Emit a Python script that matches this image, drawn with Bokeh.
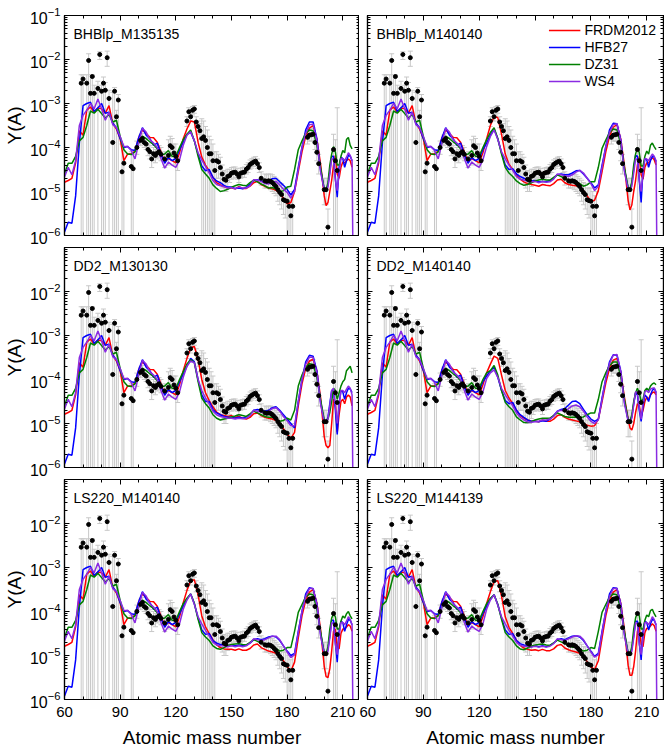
from bokeh.plotting import figure
from bokeh.layouts import gridplot
from bokeh.models import (Range1d, FixedTicker, LogTicker, LogAxis, LinearAxis, Label,
                          Legend, LegendItem, CustomJSTickFormatter)
from bokeh.embed import file_html
from bokeh.resources import INLINE

nan = float("nan")
FONT = "Liberation Sans"

# ---------------- data ----------------
# mass-number grid of the model curves
A_GRID = [60, 62, 64, 66, 68, 70, 72, 74, 76, 78, 80, 82, 84, 86, 88, 90, 92, 94, 96, 98,
          100, 102, 104, 106, 108, 110, 112, 114, 116, 118, 120, 122, 124, 126, 128, 130, 132, 134, 136, 138,
          140, 142, 144, 146, 148, 150, 152, 154, 156, 158, 160, 162, 164, 166, 168, 170, 172, 174, 176, 178,
          180, 182, 184, 186, 188, 190, 192, 194, 196, 198,
          200, 201, 202, 203, 204, 205, 206, 207, 208, 209, 210, 211, 212, 213, 214, 215, 216]

# model curves, values are log10 Y(A)
FRDM_BHBLP_M135135 = [-4.79,-4.75,-4.70,-4.35,-3.62,-3.72,-3.15,-3.08,-3.20,-3.10,-3.12,-3.22,-3.05,-3.45,-3.58,-3.80,-4.30,-4.15,-4.15,-4.08,
 -3.78,-3.60,-3.68,-3.77,-3.78,-3.88,-4.10,-4.32,-4.25,-4.30,-4.35,-4.12,-3.80,-3.58,-3.40,-3.42,-3.88,-4.22,-4.40,-4.53,
 -4.68,-4.80,-4.85,-4.89,-4.92,-4.92,-4.94,-4.89,-4.93,-4.93,-4.88,-4.80,-4.77,-4.84,-4.88,-4.92,-4.94,-4.97,-5.04,-5.15,
 -5.28,-5.25,-5.00,-4.55,-4.10,-3.75,-3.56,-3.50,-3.80,-4.37,
 -5.10,-5.32,-5.25,-5.00,-4.75,-4.40,-4.18,-4.60,-4.70,-4.45,-4.33,-4.35,-4.30,-4.26,-4.30,-4.45,nan]
HFB27_BHBLP_M135135 = [-5.92,-5.70,-5.72,-5.10,-3.90,-3.05,-3.00,-2.97,-3.18,-3.10,-3.00,-3.22,-3.20,-3.45,-3.55,-3.80,-4.00,-3.98,-4.05,-4.07,
 -3.78,-3.55,-3.72,-3.80,-3.95,-3.90,-4.15,-4.36,-4.23,-4.30,-4.25,-4.05,-3.88,-3.70,-3.65,-3.85,-4.15,-4.42,-4.53,-4.50,
 -4.68,-4.76,-4.80,-4.86,-4.90,-4.90,-4.93,-4.92,-4.94,-4.90,-4.84,-4.75,-4.73,-4.76,-4.78,-4.76,-4.71,-4.70,-4.78,-4.86,
 -4.95,-5.08,-4.95,-4.45,-4.00,-3.60,-3.42,-3.42,-3.80,-4.50,
 -4.95,-4.98,-4.85,-4.55,-4.20,-4.20,-4.70,-5.13,-4.45,-4.22,-4.25,-4.45,-4.30,-4.18,-4.20,-4.30,nan]
DZ31_BHBLP_M135135 = [-4.60,-4.36,-4.36,-4.20,-3.85,-3.77,-3.50,-3.17,-3.22,-3.13,-3.23,-3.33,-3.25,-3.42,-3.38,-3.75,-4.05,-4.15,-4.16,-4.10,
 -3.90,-3.74,-3.80,-3.87,-3.93,-4.03,-4.17,-4.15,-4.07,-4.20,-4.20,-4.00,-3.82,-3.70,-3.60,-3.85,-4.20,-4.50,-4.60,-4.70,
 -4.85,-4.93,-5.00,-4.98,-4.95,-4.90,-4.87,-4.84,-4.86,-4.87,-4.80,-4.74,-4.78,-4.83,-4.87,-4.92,-4.91,-4.95,-5.01,-4.98,
 -4.90,-4.88,-4.50,-4.05,-3.85,-3.68,-3.60,-3.62,-3.95,-4.45,
 -4.95,-4.97,-4.80,-4.40,-4.15,-3.98,-4.10,-4.40,-4.40,-4.20,-4.07,-4.12,-3.82,-3.77,-3.95,-4.03,nan]
WS4_BHBLP_M135135 = [-4.67,-4.45,-4.62,-4.30,-3.50,-3.27,-3.15,-3.00,-3.12,-2.90,-3.12,-3.38,-3.20,-3.48,-3.55,-3.75,-3.98,-3.97,-4.07,-4.26,
 -3.90,-3.56,-3.65,-3.82,-3.90,-4.00,-4.25,-4.47,-4.33,-4.40,-4.45,-4.28,-3.95,-3.72,-3.64,-3.85,-4.12,-4.28,-4.43,-4.58,
 -4.75,-4.84,-4.87,-4.89,-4.92,-4.91,-4.94,-4.90,-4.92,-4.92,-4.87,-4.73,-4.74,-4.77,-4.82,-4.83,-4.79,-4.77,-4.85,-4.95,
 -5.02,-5.15,-5.00,-4.50,-4.00,-3.68,-3.48,-3.47,-3.85,-4.55,
 -4.97,-5.00,-4.90,-4.60,-4.25,-4.28,-4.75,-4.98,-4.60,-4.25,-4.25,-4.30,-4.22,-4.12,-4.18,-4.30,-9.0]

FRDM_BHBLP_M140140 = [-4.79,-4.75,-4.70,-4.35,-3.62,-3.72,-3.15,-3.08,-3.20,-3.10,-3.12,-3.22,-3.05,-3.45,-3.58,-3.80,-4.30,-4.15,-4.15,-4.08,
 -3.78,-3.60,-3.68,-3.77,-3.78,-3.88,-4.10,-4.32,-4.25,-4.30,-4.35,-4.12,-3.80,-3.50,-3.30,-3.32,-3.70,-4.15,-4.38,-4.50,
 -4.62,-4.72,-4.78,-4.82,-4.84,-4.86,-4.88,-4.84,-4.86,-4.87,-4.82,-4.74,-4.72,-4.80,-4.84,-4.86,-4.87,-4.90,-4.98,-5.10,
 -5.22,-5.20,-4.98,-4.55,-4.10,-3.75,-3.54,-3.48,-3.80,-4.40,
 -5.20,-5.42,-5.30,-5.00,-4.75,-4.40,-4.20,-4.62,-4.72,-4.45,-4.35,-4.35,-4.28,-4.23,-4.28,-4.40,nan]
HFB27_BHBLP_M140140 = [-5.92,-5.70,-5.72,-5.10,-3.90,-3.05,-3.00,-2.97,-3.18,-3.10,-3.00,-3.22,-3.20,-3.45,-3.55,-3.80,-4.00,-3.98,-4.05,-4.07,
 -3.78,-3.55,-3.72,-3.80,-3.95,-3.90,-4.15,-4.36,-4.23,-4.30,-4.25,-4.05,-3.90,-3.72,-3.58,-3.80,-4.12,-4.40,-4.50,-4.48,
 -4.60,-4.66,-4.70,-4.74,-4.76,-4.75,-4.78,-4.77,-4.78,-4.75,-4.70,-4.62,-4.60,-4.62,-4.62,-4.58,-4.53,-4.52,-4.60,-4.70,
 -4.80,-4.92,-4.85,-4.40,-3.98,-3.60,-3.45,-3.46,-3.82,-4.50,
 -4.92,-4.95,-4.82,-4.50,-4.18,-4.20,-4.75,-5.25,-4.50,-4.25,-4.28,-4.45,-4.30,-4.20,-4.22,-4.32,nan]
DZ31_BHBLP_M140140 = [-4.60,-4.36,-4.36,-4.20,-3.85,-3.77,-3.50,-3.17,-3.22,-3.13,-3.23,-3.33,-3.25,-3.42,-3.38,-3.75,-4.05,-4.15,-4.16,-4.10,
 -3.90,-3.74,-3.80,-3.87,-3.93,-4.03,-4.17,-4.15,-4.07,-4.20,-4.20,-4.00,-3.82,-3.66,-3.55,-3.80,-4.15,-4.45,-4.58,-4.66,
 -4.76,-4.82,-4.86,-4.84,-4.80,-4.76,-4.74,-4.72,-4.74,-4.74,-4.68,-4.62,-4.66,-4.70,-4.74,-4.78,-4.78,-4.82,-4.88,-4.85,
 -4.78,-4.78,-4.45,-4.02,-3.83,-3.66,-3.58,-3.60,-3.92,-4.45,
 -4.92,-4.95,-4.78,-4.40,-4.15,-4.00,-4.12,-4.42,-4.42,-4.20,-4.08,-4.15,-3.95,-3.90,-3.98,-4.05,nan]
WS4_BHBLP_M140140 = [-4.67,-4.45,-4.62,-4.30,-3.50,-3.27,-3.15,-3.00,-3.12,-2.90,-3.12,-3.38,-3.20,-3.48,-3.55,-3.75,-3.98,-3.97,-4.07,-4.26,
 -3.90,-3.56,-3.65,-3.82,-3.90,-4.00,-4.25,-4.47,-4.33,-4.40,-4.45,-4.28,-3.98,-3.75,-3.60,-3.82,-4.10,-4.26,-4.40,-4.52,
 -4.66,-4.72,-4.74,-4.76,-4.78,-4.77,-4.80,-4.77,-4.79,-4.78,-4.72,-4.60,-4.62,-4.64,-4.66,-4.62,-4.56,-4.52,-4.58,-4.70,
 -4.82,-4.98,-4.88,-4.45,-3.98,-3.66,-3.48,-3.46,-3.84,-4.55,
 -4.95,-4.98,-4.88,-4.58,-4.25,-4.28,-4.75,-5.00,-4.60,-4.25,-4.26,-4.30,-4.22,-4.15,-4.20,-4.30,-9.0]

FRDM_DD2_M130130 = [-4.79,-4.75,-4.70,-4.35,-3.62,-3.72,-3.15,-3.08,-3.20,-3.10,-3.12,-3.22,-3.05,-3.45,-3.58,-3.80,-4.30,-4.15,-4.15,-4.08,
 -3.78,-3.60,-3.68,-3.77,-3.78,-3.88,-4.10,-4.32,-4.25,-4.30,-4.35,-4.12,-3.80,-3.52,-3.28,-3.25,-3.55,-4.00,-4.30,-4.48,
 -4.62,-4.74,-4.80,-4.82,-4.84,-4.82,-4.86,-4.84,-4.88,-4.90,-4.86,-4.78,-4.76,-4.82,-4.86,-4.88,-4.90,-4.93,-5.00,-5.12,
 -5.24,-5.34,-5.20,-4.60,-4.10,-3.75,-3.58,-3.54,-3.80,-4.40,
 -5.30,-5.50,-5.55,-5.50,-5.00,-4.45,-4.50,-5.20,-4.80,-4.50,-4.45,-4.55,-4.40,-4.35,-4.40,-4.60,nan]
HFB27_DD2_M130130 = [-5.92,-5.70,-5.72,-5.10,-3.90,-3.05,-3.00,-2.97,-3.18,-3.10,-3.00,-3.22,-3.20,-3.45,-3.55,-3.80,-4.00,-3.98,-4.05,-4.07,
 -3.78,-3.55,-3.72,-3.80,-3.95,-3.90,-4.15,-4.36,-4.23,-4.30,-4.25,-4.05,-3.88,-3.70,-3.52,-3.60,-4.00,-4.35,-4.50,-4.50,
 -4.68,-4.76,-4.80,-4.84,-4.86,-4.86,-4.88,-4.86,-4.88,-4.85,-4.80,-4.70,-4.68,-4.70,-4.72,-4.70,-4.64,-4.62,-4.70,-4.80,
 -4.90,-5.00,-5.10,-4.50,-4.00,-3.60,-3.45,-3.47,-3.80,-4.50,
 -4.95,-4.98,-4.85,-4.55,-4.25,-4.25,-4.70,-5.25,-4.55,-4.25,-4.28,-4.45,-4.30,-4.20,-4.22,-4.30,nan]
DZ31_DD2_M130130 = [-4.60,-4.36,-4.36,-4.20,-3.85,-3.77,-3.50,-3.17,-3.22,-3.13,-3.23,-3.33,-3.25,-3.42,-3.38,-3.75,-4.05,-4.15,-4.16,-4.10,
 -3.90,-3.74,-3.80,-3.87,-3.93,-4.03,-4.17,-4.15,-4.07,-4.20,-4.20,-4.00,-3.82,-3.65,-3.55,-3.62,-4.05,-4.42,-4.55,-4.65,
 -4.80,-4.88,-4.92,-4.90,-4.88,-4.85,-4.83,-4.80,-4.82,-4.84,-4.78,-4.72,-4.76,-4.80,-4.84,-4.86,-4.86,-4.90,-4.95,-4.93,
 -4.88,-4.92,-4.70,-4.15,-3.90,-3.72,-3.64,-3.66,-3.95,-4.45,
 -4.92,-4.95,-4.90,-4.75,-4.50,-4.20,-4.25,-4.45,-4.30,-4.15,-4.05,-4.00,-3.80,-3.75,-3.70,-3.85,nan]
WS4_DD2_M130130 = [-4.67,-4.45,-4.62,-4.30,-3.50,-3.27,-3.15,-3.00,-3.12,-2.90,-3.12,-3.38,-3.20,-3.48,-3.55,-3.75,-3.98,-3.97,-4.07,-4.26,
 -3.90,-3.56,-3.65,-3.82,-3.90,-4.00,-4.25,-4.47,-4.33,-4.40,-4.45,-4.28,-3.95,-3.70,-3.58,-3.62,-4.00,-4.25,-4.42,-4.56,
 -4.72,-4.80,-4.84,-4.86,-4.88,-4.88,-4.90,-4.88,-4.89,-4.88,-4.82,-4.70,-4.72,-4.74,-4.76,-4.72,-4.66,-4.64,-4.72,-4.84,
 -4.94,-5.05,-5.05,-4.50,-4.00,-3.66,-3.49,-3.50,-3.85,-4.55,
 -4.97,-5.00,-4.90,-4.60,-4.25,-4.20,-4.60,-5.00,-4.60,-4.25,-4.25,-4.30,-4.22,-4.15,-4.20,-4.35,-9.0]

FRDM_DD2_M140140 = [-4.79,-4.75,-4.70,-4.35,-3.62,-3.72,-3.15,-3.08,-3.20,-3.10,-3.12,-3.22,-3.05,-3.45,-3.58,-3.80,-4.30,-4.15,-4.15,-4.08,
 -3.78,-3.60,-3.68,-3.77,-3.78,-3.88,-4.10,-4.32,-4.25,-4.30,-4.35,-4.12,-3.85,-3.65,-3.47,-3.52,-3.90,-4.25,-4.42,-4.55,
 -4.70,-4.82,-4.88,-4.92,-4.95,-4.95,-4.96,-4.92,-4.95,-4.95,-4.90,-4.82,-4.80,-4.86,-4.90,-4.92,-4.94,-4.96,-5.00,-5.04,
 -5.06,-5.05,-4.90,-4.50,-4.08,-3.75,-3.56,-3.52,-3.82,-4.40,
 -4.90,-5.10,-5.15,-5.00,-4.75,-4.55,-4.60,-4.85,-4.70,-4.50,-4.40,-4.45,-4.35,-4.30,-4.28,-4.35,nan]
HFB27_DD2_M140140 = [-5.92,-5.70,-5.72,-5.10,-3.90,-3.05,-3.00,-2.97,-3.18,-3.10,-3.00,-3.22,-3.20,-3.45,-3.55,-3.80,-4.00,-3.98,-4.05,-4.07,
 -3.78,-3.55,-3.72,-3.80,-3.95,-3.90,-4.15,-4.36,-4.23,-4.30,-4.25,-4.05,-3.92,-3.80,-3.72,-3.95,-4.25,-4.48,-4.55,-4.52,
 -4.70,-4.80,-4.86,-4.92,-4.95,-4.95,-4.96,-4.94,-4.95,-4.90,-4.82,-4.72,-4.68,-4.66,-4.58,-4.50,-4.49,-4.55,-4.68,-4.80,
 -4.90,-4.95,-4.90,-4.42,-3.98,-3.60,-3.44,-3.45,-3.80,-4.50,
 -4.92,-4.95,-4.85,-4.55,-4.30,-4.35,-4.70,-4.95,-4.60,-4.35,-4.40,-4.50,-4.35,-4.25,-4.20,-4.30,nan]
DZ31_DD2_M140140 = [-4.60,-4.36,-4.36,-4.20,-3.85,-3.77,-3.50,-3.17,-3.22,-3.13,-3.23,-3.33,-3.25,-3.42,-3.38,-3.75,-4.05,-4.15,-4.16,-4.10,
 -3.90,-3.74,-3.80,-3.87,-3.93,-4.03,-4.17,-4.15,-4.07,-4.20,-4.20,-4.00,-3.85,-3.80,-3.68,-3.90,-4.25,-4.52,-4.62,-4.70,
 -4.85,-4.92,-4.98,-4.98,-4.96,-4.92,-4.90,-4.88,-4.88,-4.88,-4.82,-4.76,-4.80,-4.84,-4.86,-4.86,-4.85,-4.86,-4.85,-4.80,
 -4.76,-4.76,-4.45,-4.05,-3.85,-3.68,-3.60,-3.60,-3.92,-4.45,
 -4.92,-4.95,-4.80,-4.50,-4.30,-4.20,-4.30,-4.50,-4.45,-4.25,-4.20,-4.25,-4.15,-4.10,-4.08,-4.12,nan]
WS4_DD2_M140140 = [-4.67,-4.45,-4.62,-4.30,-3.50,-3.27,-3.15,-3.00,-3.12,-2.90,-3.12,-3.38,-3.20,-3.48,-3.55,-3.75,-3.98,-3.97,-4.07,-4.26,
 -3.90,-3.56,-3.65,-3.82,-3.90,-4.00,-4.25,-4.47,-4.33,-4.40,-4.45,-4.28,-3.98,-3.85,-3.78,-3.95,-4.20,-4.35,-4.48,-4.60,
 -4.76,-4.86,-4.92,-4.96,-4.97,-4.96,-4.95,-4.92,-4.92,-4.90,-4.84,-4.72,-4.70,-4.72,-4.66,-4.60,-4.58,-4.62,-4.72,-4.85,
 -4.95,-5.00,-4.92,-4.45,-3.98,-3.64,-3.45,-3.43,-3.82,-4.55,
 -4.95,-4.98,-4.88,-4.58,-4.28,-4.30,-4.65,-4.90,-4.55,-4.28,-4.25,-4.30,-4.22,-4.20,-4.19,-4.28,-9.0]

FRDM_LS220_M140140 = [-4.79,-4.75,-4.70,-4.35,-3.62,-3.72,-3.15,-3.08,-3.20,-3.10,-3.12,-3.22,-3.05,-3.45,-3.58,-3.80,-4.30,-4.15,-4.15,-4.08,
 -3.78,-3.60,-3.68,-3.77,-3.78,-3.88,-4.10,-4.32,-4.25,-4.30,-4.35,-4.12,-3.80,-3.52,-3.30,-3.28,-3.62,-4.10,-4.35,-4.50,
 -4.64,-4.76,-4.82,-4.85,-4.86,-4.86,-4.88,-4.85,-4.88,-4.88,-4.84,-4.76,-4.74,-4.82,-4.86,-4.90,-4.92,-4.95,-5.02,-5.12,
 -5.25,-5.36,-5.15,-4.60,-4.10,-3.75,-3.56,-3.50,-3.80,-4.40,
 -5.25,-5.48,-5.50,-5.30,-4.90,-4.45,-4.40,-4.80,-4.85,-4.50,-4.40,-4.40,-4.35,-4.30,-4.33,-4.45,nan]
HFB27_LS220_M140140 = [-5.92,-5.70,-5.72,-5.10,-3.90,-3.05,-3.00,-2.97,-3.18,-3.10,-3.00,-3.22,-3.20,-3.45,-3.55,-3.80,-4.00,-3.98,-4.05,-4.07,
 -3.78,-3.55,-3.72,-3.80,-3.95,-3.90,-4.15,-4.36,-4.23,-4.30,-4.25,-4.05,-3.88,-3.72,-3.60,-3.82,-4.15,-4.42,-4.52,-4.50,
 -4.66,-4.72,-4.75,-4.76,-4.78,-4.76,-4.78,-4.76,-4.78,-4.76,-4.72,-4.64,-4.62,-4.64,-4.62,-4.58,-4.56,-4.58,-4.66,-4.78,
 -4.90,-5.00,-4.95,-4.45,-4.00,-3.60,-3.46,-3.48,-3.82,-4.50,
 -4.95,-4.98,-4.85,-4.55,-4.20,-4.20,-4.70,-5.15,-4.45,-4.22,-4.25,-4.45,-4.30,-4.18,-4.20,-4.30,nan]
DZ31_LS220_M140140 = [-4.60,-4.36,-4.36,-4.20,-3.85,-3.77,-3.50,-3.17,-3.22,-3.13,-3.23,-3.33,-3.25,-3.42,-3.38,-3.75,-4.05,-4.15,-4.16,-4.10,
 -3.90,-3.74,-3.80,-3.87,-3.93,-4.03,-4.17,-4.15,-4.07,-4.20,-4.20,-4.00,-3.82,-3.70,-3.60,-3.82,-4.18,-4.48,-4.58,-4.66,
 -4.78,-4.84,-4.86,-4.82,-4.78,-4.75,-4.74,-4.73,-4.75,-4.76,-4.70,-4.64,-4.68,-4.72,-4.76,-4.80,-4.80,-4.84,-4.90,-4.88,
 -4.82,-4.82,-4.45,-4.02,-3.84,-3.67,-3.60,-3.62,-3.95,-4.45,
 -4.95,-4.97,-4.80,-4.40,-4.15,-4.05,-4.12,-4.40,-4.40,-4.22,-4.10,-4.15,-4.05,-4.00,-4.10,-4.17,nan]
WS4_LS220_M140140 = [-4.67,-4.45,-4.62,-4.30,-3.50,-3.27,-3.15,-3.00,-3.12,-2.90,-3.12,-3.38,-3.20,-3.48,-3.55,-3.75,-3.98,-3.97,-4.07,-4.26,
 -3.90,-3.56,-3.65,-3.82,-3.90,-4.00,-4.25,-4.47,-4.33,-4.40,-4.45,-4.28,-3.95,-3.74,-3.60,-3.84,-4.12,-4.28,-4.43,-4.56,
 -4.70,-4.76,-4.78,-4.78,-4.80,-4.78,-4.80,-4.78,-4.80,-4.78,-4.72,-4.62,-4.64,-4.66,-4.64,-4.60,-4.56,-4.56,-4.64,-4.78,
 -4.92,-5.05,-4.98,-4.48,-4.00,-3.66,-3.48,-3.48,-3.84,-4.55,
 -4.97,-5.00,-4.90,-4.60,-4.25,-4.28,-4.75,-4.98,-4.60,-4.25,-4.25,-4.30,-4.22,-4.12,-4.18,-4.30,-9.0]

FRDM_LS220_M144139 = [-4.79,-4.75,-4.70,-4.35,-3.62,-3.72,-3.15,-3.08,-3.20,-3.10,-3.12,-3.22,-3.05,-3.45,-3.58,-3.80,-4.30,-4.15,-4.15,-4.08,
 -3.78,-3.60,-3.68,-3.77,-3.78,-3.88,-4.10,-4.32,-4.25,-4.30,-4.35,-4.12,-3.82,-3.55,-3.32,-3.30,-3.65,-4.12,-4.36,-4.50,
 -4.65,-4.77,-4.83,-4.86,-4.88,-4.87,-4.89,-4.86,-4.89,-4.89,-4.85,-4.77,-4.75,-4.83,-4.87,-4.90,-4.92,-4.95,-5.03,-5.14,
 -5.26,-5.32,-5.12,-4.60,-4.10,-3.75,-3.56,-3.50,-3.80,-4.40,
 -5.22,-5.45,-5.45,-5.25,-4.90,-4.45,-4.35,-4.75,-4.80,-4.48,-4.38,-4.38,-4.33,-4.28,-4.32,-4.45,nan]
HFB27_LS220_M144139 = [-5.92,-5.70,-5.72,-5.10,-3.90,-3.05,-3.00,-2.97,-3.18,-3.10,-3.00,-3.22,-3.20,-3.45,-3.55,-3.80,-4.00,-3.98,-4.05,-4.07,
 -3.78,-3.55,-3.72,-3.80,-3.95,-3.90,-4.15,-4.36,-4.23,-4.30,-4.25,-4.05,-3.88,-3.72,-3.62,-3.84,-4.15,-4.42,-4.52,-4.50,
 -4.66,-4.73,-4.76,-4.78,-4.80,-4.78,-4.80,-4.78,-4.80,-4.77,-4.72,-4.64,-4.62,-4.64,-4.60,-4.56,-4.55,-4.58,-4.66,-4.78,
 -4.90,-5.02,-4.95,-4.45,-4.00,-3.60,-3.46,-3.47,-3.82,-4.50,
 -4.95,-4.98,-4.85,-4.55,-4.22,-4.22,-4.70,-5.10,-4.45,-4.22,-4.25,-4.42,-4.28,-4.18,-4.20,-4.30,nan]
DZ31_LS220_M144139 = [-4.60,-4.36,-4.36,-4.20,-3.85,-3.77,-3.50,-3.17,-3.22,-3.13,-3.23,-3.33,-3.25,-3.42,-3.38,-3.75,-4.05,-4.15,-4.16,-4.10,
 -3.90,-3.74,-3.80,-3.87,-3.93,-4.03,-4.17,-4.15,-4.07,-4.20,-4.20,-4.00,-3.82,-3.70,-3.62,-3.84,-4.18,-4.48,-4.58,-4.66,
 -4.78,-4.85,-4.87,-4.83,-4.79,-4.76,-4.75,-4.74,-4.76,-4.77,-4.71,-4.65,-4.69,-4.73,-4.77,-4.81,-4.81,-4.85,-4.90,-4.88,
 -4.82,-4.84,-4.45,-4.02,-3.84,-3.67,-3.60,-3.62,-3.95,-4.45,
 -4.95,-4.97,-4.80,-4.40,-4.15,-4.02,-4.10,-4.40,-4.40,-4.20,-4.08,-4.12,-3.98,-3.95,-4.05,-4.12,nan]
WS4_LS220_M144139 = [-4.67,-4.45,-4.62,-4.30,-3.50,-3.27,-3.15,-3.00,-3.12,-2.90,-3.12,-3.38,-3.20,-3.48,-3.55,-3.75,-3.98,-3.97,-4.07,-4.26,
 -3.90,-3.56,-3.65,-3.82,-3.90,-4.00,-4.25,-4.47,-4.33,-4.40,-4.45,-4.28,-3.95,-3.74,-3.62,-3.86,-4.12,-4.28,-4.43,-4.56,
 -4.70,-4.77,-4.79,-4.79,-4.81,-4.79,-4.81,-4.79,-4.81,-4.79,-4.73,-4.62,-4.64,-4.66,-4.62,-4.58,-4.55,-4.56,-4.64,-4.78,
 -4.92,-5.04,-4.98,-4.48,-4.00,-3.66,-3.48,-3.48,-3.84,-4.55,
 -4.97,-5.00,-4.90,-4.60,-4.25,-4.28,-4.75,-4.98,-4.60,-4.25,-4.25,-4.30,-4.22,-4.12,-4.18,-4.30,-9.0]

# observed (solar r-process) abundances with error bars
OBS_A = [69, 70, 72, 73, 74, 75, 76, 78, 79, 80, 81, 82, 83, 84, 86, 87, 88, 89, 91, 92, 96, 97, 99,
         101, 102, 103, 104, 105, 106, 107, 108, 109, 110, 111, 112, 114, 116, 117, 118, 119, 120, 121,
         126, 127, 128, 129, 130, 131, 132, 133, 134, 135, 136, 137, 138, 139, 140, 141, 142, 143, 144,
         145, 146, 147, 148, 149, 150, 151, 152, 153, 154, 155, 156, 157, 158, 159, 160, 161, 162, 163,
         164, 165, 166, 168, 169, 170, 171, 172, 173, 174, 175, 176, 177, 178, 179, 180, 181, 182, 183,
         191, 192, 193, 194, 195, 196, 197, 200, 201, 202, 205, 206, 207]
OBS_Y = [2.9e-3, 3.6e-3, 2.9e-3, 9.5e-3, 1.7e-3, 4.1e-3, 1.7e-3, 2.2e-3, 1.3e-2, 1.9e-3, 2.9e-3, 2.0e-3, 1.1e-2,
         1.3e-3, 1.3e-4, 1.9e-3, 5.0e-4, 1.2e-3, 2.8e-5, 4.4e-5, 3.7e-5, 3.3e-5, 1.0e-4,
         1.45e-4, 1.6e-4, 1.3e-4, 1.2e-4, 9.0e-5, 8.0e-5, 5.5e-5, 7.2e-5, 6.6e-5, 7.5e-5, 8.0e-5, 7.0e-5, 5.5e-5,
         6.6e-5, 1.1e-4, 1.0e-4, 7.5e-5, 6.3e-5, 5.0e-5,
         4.0e-4, 6.5e-4, 5.0e-4, 7.0e-4, 7.5e-4, 3.8e-4, 3.0e-4, 2.4e-4, 1.6e-4, 1.75e-4, 1.45e-4, 1.0e-4, 7.2e-5,
         7.2e-5, 5.0e-5, 3.0e-5, 5.0e-5, 4.7e-5, 3.5e-5,
         2.5e-5, 1.9e-5, 1.8e-5, 2.2e-5, 2.3e-5, 2.6e-5, 2.7e-5, 2.75e-5, 2.5e-5, 2.15e-5, 2.6e-5, 2.7e-5, 2.75e-5,
         3.2e-5, 3.5e-5, 4.1e-5, 4.4e-5, 4.7e-5, 4.9e-5,
         4.3e-5, 3.5e-5, 2.0e-5, 1.75e-5, 1.7e-5, 1.75e-5, 1.7e-5, 1.6e-5, 1.45e-5, 1.3e-5, 1.1e-5, 9.5e-6, 8.5e-6,
         6.5e-6, 6.2e-6, 6.0e-6, 4.6e-6, 2.8e-6, 4.6e-6,
         1.7e-4, 1.9e-4, 1.95e-4, 2.0e-4, 1.3e-4, 7.8e-5, 4.3e-5, 1.1e-5, 1.1e-5, 1.55e-6, 9.0e-5, 5.0e-5, 3.0e-5]
OBS_LO = [1e-7, 1e-7, 1e-7, 1e-7, 1e-7, 1e-7, 1e-7, 1e-7, 1.0e-2, 1e-7, 1e-7, 1e-7, 7e-3,
          1e-7, 1e-7, 1e-7, 1e-7, 1e-7, 1e-7, 1e-7, 1e-7, 1e-7, 7e-5,
          1.1e-4, 1.2e-4, 1.0e-4, 9e-5, 6.5e-5, 5.5e-5, 3.5e-5, 5e-5, 4.5e-5, 5.5e-5, 6e-5, 5e-5, 3.5e-5,
          4e-5, 7e-5, 6e-5, 4e-5, 1e-7, 3e-5,
          3e-4, 5e-4, 4e-4, 5.5e-4, 6e-4, 2.8e-4, 2e-4, 1.5e-4, 1e-7, 1e-7, 1e-7, 1e-7, 1e-7,
          1e-7, 1e-7, 1e-7, 2e-5, 2e-5, 1.5e-5,
          1.2e-5, 1e-5, 1e-5, 1.3e-5, 1.6e-5, 1.9e-5, 2e-5, 2.1e-5, 1.9e-5, 1.6e-5, 2e-5, 2.1e-5, 2.1e-5,
          2.5e-5, 2.7e-5, 3.2e-5, 3.4e-5, 3.7e-5, 3.8e-5,
          3.3e-5, 2.7e-5, 1.4e-5, 1.2e-5, 1.2e-5, 1.2e-5, 1.1e-5, 1e-5, 9e-6, 8e-6, 6e-6, 5e-6, 4e-6,
          3e-6, 2.5e-6, 1e-7, 1e-7, 1e-7, 1e-7,
          1.2e-4, 1.4e-4, 1.4e-4, 1.4e-4, 9e-5, 5e-5, 2.5e-5, 5e-6, 5e-6, 1e-7, 1e-7, 1e-7, 1e-7]
OBS_HI = [4.5e-3, 4.5e-3, 4.5e-3, 1.35e-2, 4.5e-3, 4.5e-3, 2.6e-3, 3.2e-3, 1.5e-2, 2.6e-3, 4.0e-3, 3.0e-3, 1.55e-2,
          2.0e-3, 1.8e-3, 2.3e-3, 7.0e-4, 1.6e-3, 1.2e-4, 1.0e-4, 8e-5, 7e-5, 1.4e-4,
          1.9e-4, 2.1e-4, 1.7e-4, 1.6e-4, 1.2e-4, 1.1e-4, 8e-5, 1.0e-4, 9e-5, 1.0e-4, 1.1e-4, 1.0e-4, 8e-5,
          1.5e-4, 1.8e-4, 1.6e-4, 1.2e-4, 1.2e-4, 8e-5,
          5e-4, 8e-4, 6e-4, 8.5e-4, 9e-4, 5e-4, 4e-4, 3.5e-4, 4.5e-4, 4.0e-4, 3.0e-4, 2.5e-4, 1.8e-4,
          1.5e-4, 1.2e-4, 8e-5, 8e-5, 7e-5, 6e-5,
          4e-5, 3e-5, 2.8e-5, 3.2e-5, 3.2e-5, 3.5e-5, 3.6e-5, 3.6e-5, 3.3e-5, 2.9e-5, 3.4e-5, 3.5e-5, 3.6e-5,
          4.1e-5, 4.5e-5, 5.2e-5, 5.6e-5, 6e-5, 6.2e-5,
          5.5e-5, 4.5e-5, 2.8e-5, 2.5e-5, 2.4e-5, 2.5e-5, 2.5e-5, 2.4e-5, 2.2e-5, 2.0e-5, 1.8e-5, 1.6e-5, 1.5e-5,
          1.2e-5, 1.2e-5, 1.2e-5, 1.0e-5, 8e-6, 1.0e-5,
          2.4e-4, 2.6e-4, 2.7e-4, 2.8e-4, 1.8e-4, 1.2e-4, 7e-5, 2e-5, 2e-5, 4e-6, 2.0e-4, 1.5e-4, 8.0e-4]

MODELS = ["FRDM2012", "HFB27", "DZ31", "WS4"]
COLORS = ["#ff0000", "#0000ff", "#008000", "#8a2be2"]
PANEL_NAMES = ["BHBlp_M135135", "BHBlp_M140140", "DD2_M130130", "DD2_M140140",
               "LS220_M140140", "LS220_M144139"]
PANEL_CURVES = [
    [FRDM_BHBLP_M135135, HFB27_BHBLP_M135135, DZ31_BHBLP_M135135, WS4_BHBLP_M135135],
    [FRDM_BHBLP_M140140, HFB27_BHBLP_M140140, DZ31_BHBLP_M140140, WS4_BHBLP_M140140],
    [FRDM_DD2_M130130, HFB27_DD2_M130130, DZ31_DD2_M130130, WS4_DD2_M130130],
    [FRDM_DD2_M140140, HFB27_DD2_M140140, DZ31_DD2_M140140, WS4_DD2_M140140],
    [FRDM_LS220_M140140, HFB27_LS220_M140140, DZ31_LS220_M140140, WS4_LS220_M140140],
    [FRDM_LS220_M144139, HFB27_LS220_M144139, DZ31_LS220_M144139, WS4_LS220_M144139],
]
X_MAJOR = [60, 90, 120, 150, 180, 210]
X_MINOR = [70, 80, 100, 110, 130, 140, 160, 170, 190, 200]

# ---------------- layout ----------------
FRAME_H = 220
FRAME_W = [295, 296]


def style_axis(ax):
    ax.axis_line_color = "black"
    ax.axis_line_width = 1.2
    ax.major_tick_line_color = "black"
    ax.minor_tick_line_color = "black"
    ax.major_tick_in = 5
    ax.major_tick_out = 0
    ax.minor_tick_in = 3
    ax.minor_tick_out = 0
    ax.major_label_text_color = "black"
    ax.major_label_text_font = FONT
    ax.axis_label_text_font = FONT
    ax.axis_label_text_font_style = "normal"
    ax.axis_label_text_color = "black"


def blank(ax):
    ax.formatter = CustomJSTickFormatter(code="return ''")
    ax.major_label_text_font_size = "0px"
    ax.major_label_standoff = 0
    ax.axis_label_standoff = 0


def make_panel(idx):
    row, col = divmod(idx, 2)
    p = figure(x_range=Range1d(60, 219), y_range=Range1d(1e-6, 1e-1), y_axis_type="log",
               frame_width=FRAME_W[col], frame_height=FRAME_H,
               output_backend="svg", toolbar_location=None,
               min_border_left=61 if col == 0 else 8,
               min_border_right=0 if col == 0 else 2,
               min_border_top=15 if row == 0 else 0,
               min_border_bottom=12 if row < 2 else 45)
    p.xgrid.visible = False
    p.ygrid.visible = False
    p.outline_line_color = "black"
    p.outline_line_width = 1.2
    p.background_fill_color = "white"

    xa = p.below[0]
    ya = p.left[0]
    xa.ticker = FixedTicker(ticks=X_MAJOR, minor_ticks=X_MINOR)
    ya.ticker = LogTicker(num_minor_ticks=10)
    style_axis(xa)
    style_axis(ya)

    top = LinearAxis(ticker=FixedTicker(ticks=X_MAJOR, minor_ticks=X_MINOR))
    right = LogAxis(ticker=LogTicker(num_minor_ticks=10))
    for ax in (top, right):
        style_axis(ax)
        blank(ax)
    p.add_layout(top, "above")
    p.add_layout(right, "right")

    # x axis
    if row == 2:
        xa.major_label_text_font_size = "15px"
        xa.major_label_standoff = 7
        xa.axis_label = "Atomic mass number"
        xa.axis_label_text_font_size = "19px"
        xa.axis_label_standoff = 7
    else:
        blank(xa)
    # y axis
    if col == 0:
        ya.major_label_text_font_size = "16px"
        ya.major_label_standoff = 4
        ya.axis_label = "Y(A)"
        ya.axis_label_text_font_size = "19px"
        ya.axis_label_standoff = 2
        if row > 0:
            ya.major_label_overrides = {0.1: ""}
    else:
        blank(ya)

    # error bars
    p.segment(x0=OBS_A, y0=OBS_LO, x1=OBS_A, y1=OBS_HI, line_color="#c8c8c8", line_width=1)
    p.scatter(x=OBS_A, y=OBS_HI, marker="dash", size=5, line_color="#c8c8c8", line_width=1)
    p.scatter(x=OBS_A, y=OBS_LO, marker="dash", size=5, line_color="#c8c8c8", line_width=1)

    renderers = []
    for vals, color in zip(PANEL_CURVES[idx], COLORS):
        ys = [10 ** v for v in vals]
        r = p.line(A_GRID, ys, line_color=color, line_width=1.5)
        renderers.append(r)

    p.scatter(x=OBS_A, y=OBS_Y, size=4, fill_color="black", line_color="black")

    p.add_layout(Label(x=9, y=FRAME_H - 18, x_units="screen", y_units="screen",
                       text=PANEL_NAMES[idx], text_font=FONT, text_font_size="14px",
                       text_color="black", text_baseline="middle"))

    if idx == 1:
        legend = Legend(items=[LegendItem(label=m, renderers=[r]) for m, r in zip(MODELS, renderers)],
                        location="top_right", margin=7, padding=0, spacing=1,
                        border_line_color=None, background_fill_alpha=0,
                        label_text_font=FONT, label_text_font_size="14px", label_text_color="black",
                        glyph_width=32, glyph_height=16, label_height=16, label_standoff=4)
        p.add_layout(legend)
    return p


panels = [make_panel(i) for i in range(6)]
grid = gridplot([[panels[0], panels[1]], [panels[2], panels[3]], [panels[4], panels[5]]],
                toolbar_location=None)

open("out.html", "w").write(file_html(grid, INLINE))
